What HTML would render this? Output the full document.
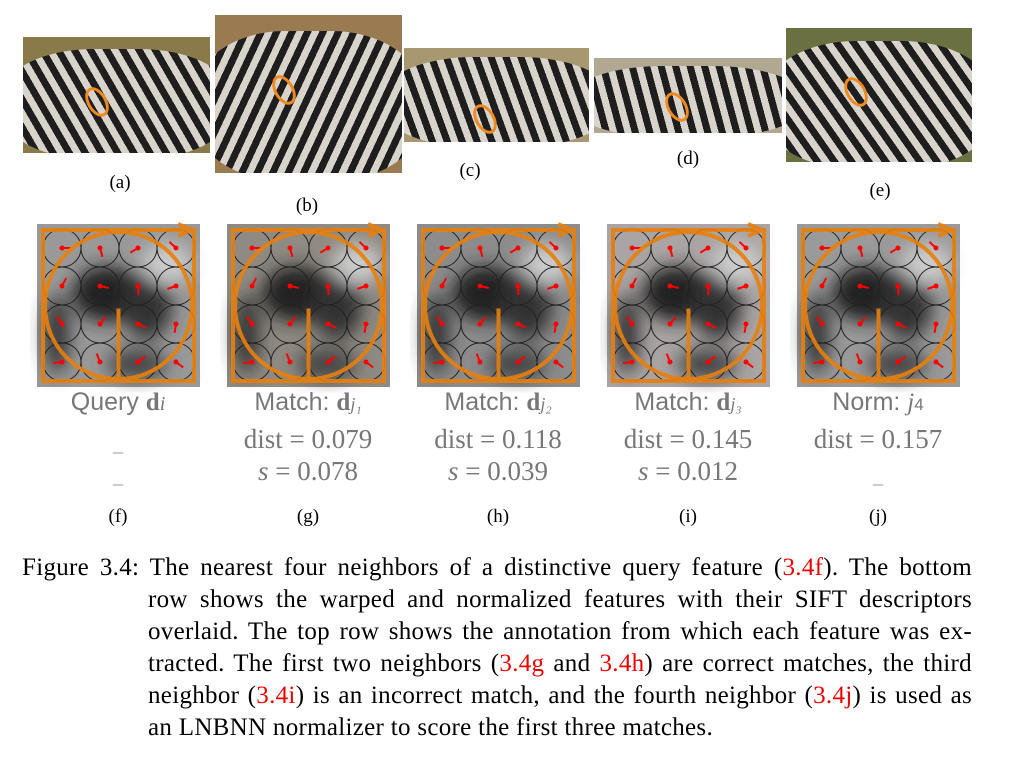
<!DOCTYPE html>
<html><head><meta charset="utf-8"><style>
body{margin:0;width:1010px;height:763px;background:#fff;position:relative;overflow:hidden;font-family:"Liberation Serif",serif}
.abs{position:absolute}
.lbl{position:absolute;font-size:19px;transform:translateX(-50%)}
.img{position:absolute;overflow:hidden}
.mt{position:absolute;font-family:"Liberation Sans",sans-serif;font-size:25px;color:#777;transform:translateX(-50%);white-space:nowrap}
.ms{position:absolute;font-family:"Liberation Serif",serif;font-size:27px;color:#777;transform:translateX(-50%);white-space:nowrap}
.dash{position:absolute;font-family:"Liberation Serif",serif;font-size:20px;color:#999;transform:translateX(-50%)}
.cap{position:absolute;font-size:25px;letter-spacing:0.3px;line-height:32px;color:#000;white-space:nowrap}
.r{color:#e00}
</style></head><body>
<div id="tops"></div>
<svg id="patches" class="abs" style="left:0;top:0" width="1010" height="400"></svg>

<div class="mt" style="left:118px;top:388px">Query <b style="font-family:'Liberation Serif'">d</b><i style="font-family:'Liberation Serif';font-size:20px">i</i></div>
<div class="mt" style="left:308px;top:388px">Match: <b style="font-family:'Liberation Serif'">d</b><i style="font-family:'Liberation Serif';font-size:18px">j₁</i></div>
<div class="mt" style="left:498px;top:388px">Match: <b style="font-family:'Liberation Serif'">d</b><i style="font-family:'Liberation Serif';font-size:18px">j₂</i></div>
<div class="mt" style="left:688px;top:388px">Match: <b style="font-family:'Liberation Serif'">d</b><i style="font-family:'Liberation Serif';font-size:18px">j₃</i></div>
<div class="mt" style="left:878px;top:388px">Norm: <i style="font-family:'Liberation Serif'">j</i><span style="font-size:17px">4</span></div>

<div class="dash" style="left:118px;top:434px">_</div>
<div class="ms" style="left:308px;top:424px">dist = 0.079</div>
<div class="ms" style="left:498px;top:424px">dist = 0.118</div>
<div class="ms" style="left:688px;top:424px">dist = 0.145</div>
<div class="ms" style="left:878px;top:424px">dist = 0.157</div>
<div class="dash" style="left:118px;top:466px">_</div>
<div class="ms" style="left:308px;top:456px"><i>s</i> = 0.078</div>
<div class="ms" style="left:498px;top:456px"><i>s</i> = 0.039</div>
<div class="ms" style="left:688px;top:456px"><i>s</i> = 0.012</div>
<div class="dash" style="left:878px;top:466px">_</div>

<div class="lbl" style="left:118px;top:506px">(f)</div>
<div class="lbl" style="left:308px;top:506px">(g)</div>
<div class="lbl" style="left:498px;top:506px">(h)</div>
<div class="lbl" style="left:688px;top:506px">(i)</div>
<div class="lbl" style="left:878px;top:506px">(j)</div>

<div>
<div class="cap" style="left:22px;top:552px;width:950px;text-align:justify;text-align-last:justify">Figure 3.4: The nearest four neighbors of a distinctive query feature (<span class="r">3.4f</span>). The bottom</div>
<div class="cap" style="left:148px;top:584px;width:824px;text-align:justify;text-align-last:justify">row shows the warped and normalized features with their SIFT descriptors</div>
<div class="cap" style="left:148px;top:616px;width:824px;text-align:justify;text-align-last:justify">overlaid. The top row shows the annotation from which each feature was ex-</div>
<div class="cap" style="left:148px;top:648px;width:824px;text-align:justify;text-align-last:justify">tracted. The first two neighbors (<span class="r">3.4g</span> and <span class="r">3.4h</span>) are correct matches, the third</div>
<div class="cap" style="left:148px;top:680px;width:824px;text-align:justify;text-align-last:justify">neighbor (<span class="r">3.4i</span>) is an incorrect match, and the fourth neighbor (<span class="r">3.4j</span>) is used as</div>
<div class="cap" style="left:148px;top:712px;width:824px">an LNBNN normalizer to score the first three matches.</div>
</div>

<script>
const tops=[[23,37,187,116,'a',120,172,-30,'#8a7a4a',96,100],[215,15,187,158,'b',307,195,25,'#9a7a50',283,88],[404,48,185,94,'c',470,160,-20,'#a89870',484,117],[594,58,188,75,'d',688,148,-15,'#b0a890',676,105],[786,28,186,134,'e',880,180,-35,'#6a7040',855,90]];
const T=document.getElementById('tops');
tops.forEach(t=>{
  const d=document.createElement('div');
  d.className='img';
  
  
  d.style.cssText=`left:${t[0]}px;top:${t[1]}px;width:${t[2]}px;height:${t[3]}px;background:${t[8]}`;
  d.innerHTML=`<div style="position:absolute;left:-10%;top:10%;width:120%;height:95%;border-radius:40%;background:repeating-linear-gradient(${t[7]+90}deg,#1e1e1e 0 7px,#d8d4cc 7px 14px)"></div><div style="position:absolute;left:${t[9]-t[0]-9}px;top:${t[10]-t[1]-14}px;width:14px;height:26px;border:3px solid #f08a20;border-radius:50%;transform:rotate(-30deg)"></div>`;
  T.appendChild(d);
  const l=document.createElement('div');l.className='lbl';l.style.left=t[5]+'px';l.style.top=t[6]+'px';l.textContent='('+t[4]+')';
  
  
  T.appendChild(l);
});
const px=[37,227,417,607,797];
const bgs=['#999','#8f8a82','#8c8c8c','#aaa4a4','#9a9a9a'];
const S=document.getElementById('patches');
let h='<defs><filter id="bl"><feGaussianBlur stdDeviation="9"/></filter></defs>';
px.forEach((x,k)=>{
  const y=224,w=163;
  h+=`<g><rect x="${x}" y="${y}" width="${w}" height="${w}" fill="${bgs[k]}"/>`;
  h+=`<g filter="url(#bl)"><ellipse cx="${x+70}" cy="${y+70}" rx="35" ry="28" fill="#222"/><ellipse cx="${x+110}" cy="${y+80}" rx="25" ry="35" fill="#333"/><ellipse cx="${x+20}" cy="${y+110}" rx="12" ry="40" fill="#333"/><ellipse cx="${x+100}" cy="${y+140}" rx="30" ry="15" fill="#444"/><ellipse cx="${x+130}" cy="${y+40}" rx="25" ry="20" fill="#ccc"/></g>`;
  for(let i=0;i<4;i++)for(let j=0;j<4;j++){
    const cx=x+25+j*38,cy=y+24+i*38;
    h+=`<circle cx="${cx}" cy="${cy}" r="19" fill="none" stroke="#222" stroke-width="1"/>`;
    const a=(i*4+j)*1.3;
    h+=`<line x1="${cx}" y1="${cy}" x2="${cx+9*Math.cos(a)}" y2="${cy+9*Math.sin(a)}" stroke="#f00" stroke-width="2"/><circle cx="${cx}" cy="${cy}" r="2.5" fill="#f00"/>`;
  }
  h+=`<g stroke="#e8800e" stroke-width="4" fill="none" opacity="0.9"><rect x="${x+6}" y="${y+6}" width="${w-12}" height="${w-12}"/><circle cx="${x+w/2}" cy="${y+w/2}" r="${w/2-8}"/><line x1="${x+w/2}" y1="${y+w/2+3}" x2="${x+w/2}" y2="${y+w-6}"/><polyline points="${x+w-22},${y} ${x+w-8},${y+6} ${x+w-22},${y+12}"/></g></g>`;
});
S.innerHTML=h;
</script>
</body></html>
